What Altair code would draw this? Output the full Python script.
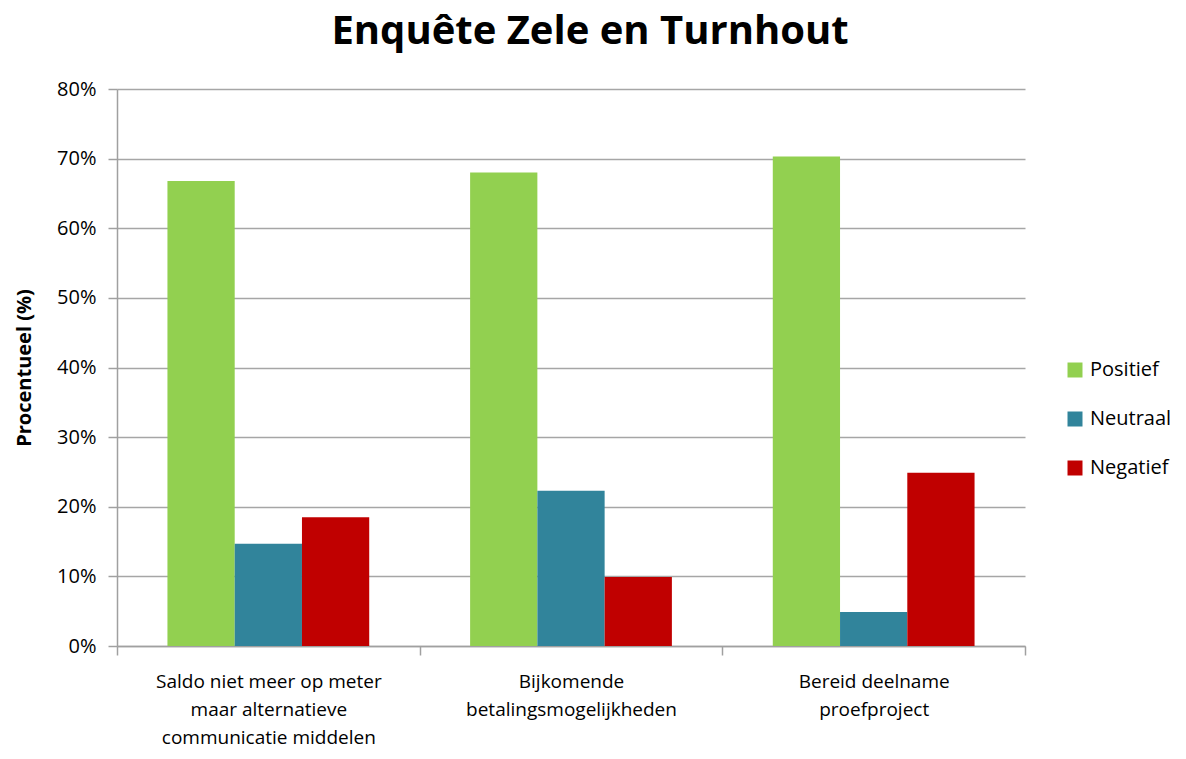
import altair as alt
import pandas as pd

categories = [
    "Saldo niet meer op meter\nmaar alternatieve\ncommunicatie middelen",
    "Bijkomende\nbetalingsmogelijkheden",
    "Bereid deelname\nproefproject",
]
series = ["Positief", "Neutraal", "Negatief"]
positief = [0.668, 0.680, 0.703]
neutraal = [0.147, 0.223, 0.049]
negatief = [0.185, 0.099, 0.249]
colors = ["#92D050", "#31849B", "#C00000"]

rows = []
for i, c in enumerate(categories):
    for s, vals in zip(series, [positief, neutraal, negatief]):
        rows.append({"categorie": c, "reeks": s, "waarde": vals[i]})
df = pd.DataFrame(rows)

FONT = "Open Sans"

chart = (
    alt.Chart(df)
    .mark_bar()
    .encode(
        x=alt.X(
            "categorie:N",
            sort=categories,
            scale=alt.Scale(paddingInner=0, paddingOuter=0),
            axis=alt.Axis(
                title=None,
                labelAngle=0,
                labelExpr="split(datum.label, '\\n')",
                labelLimit=0,
                tickBand="extent",
                tickSize=9,
                labelPadding=17,
                labelLineHeight=28,
                labelFontSize=19,
                grid=False,
            ),
        ),
        xOffset=alt.XOffset(
            "reeks:N",
            sort=series,
            scale=alt.Scale(paddingInner=0, paddingOuter=0.75),
        ),
        y=alt.Y(
            "waarde:Q",
            scale=alt.Scale(domain=[0, 0.8], nice=False),
            axis=alt.Axis(
                title="Procentueel (%)",
                format=".0%",
                values=[0, 0.1, 0.2, 0.3, 0.4, 0.5, 0.6, 0.7, 0.8],
                tickSize=9,
                labelPadding=12,
                labelFontSize=20,
                titleFontSize=20,
                titleFontWeight="bold",
                titlePadding=22,
                grid=True,
            ),
        ),
        color=alt.Color(
            "reeks:N",
            sort=series,
            scale=alt.Scale(domain=series, range=colors),
            legend=alt.Legend(
                title=None,
                orient="none",
                legendX=948,
                legendY=271,
                symbolType="square",
                symbolSize=225,
                symbolStrokeWidth=0,
                labelFontSize=20,
                rowPadding=29,
                labelOffset=5,
            ),
        ),
    )
    .properties(
        width=908,
        height=557,
        autosize=alt.AutoSizeParams(type="none"),
        padding={"left": 109, "top": 81, "right": 153, "bottom": 105},
        title=alt.Title(
            "Enquête Zele en Turnhout",
            fontSize=40,
            fontWeight="bold",
            font=FONT,
            color="#000000",
            offset=27,
            dx=19,
        ),
    )
    .configure_view(stroke=None)
    .configure_axis(
        labelFont=FONT,
        titleFont=FONT,
        labelColor="#000000",
        titleColor="#000000",
        domainColor="#a0a0a0",
        tickColor="#a0a0a0",
        gridColor="#a6a6a6",
        domainWidth=1.5,
        tickWidth=1.5,
        gridWidth=1.5,
    )
    .configure_legend(labelFont=FONT, labelColor="#000000")
)

chart.save("out.html", embed_options={"renderer": "svg", "actions": False})
